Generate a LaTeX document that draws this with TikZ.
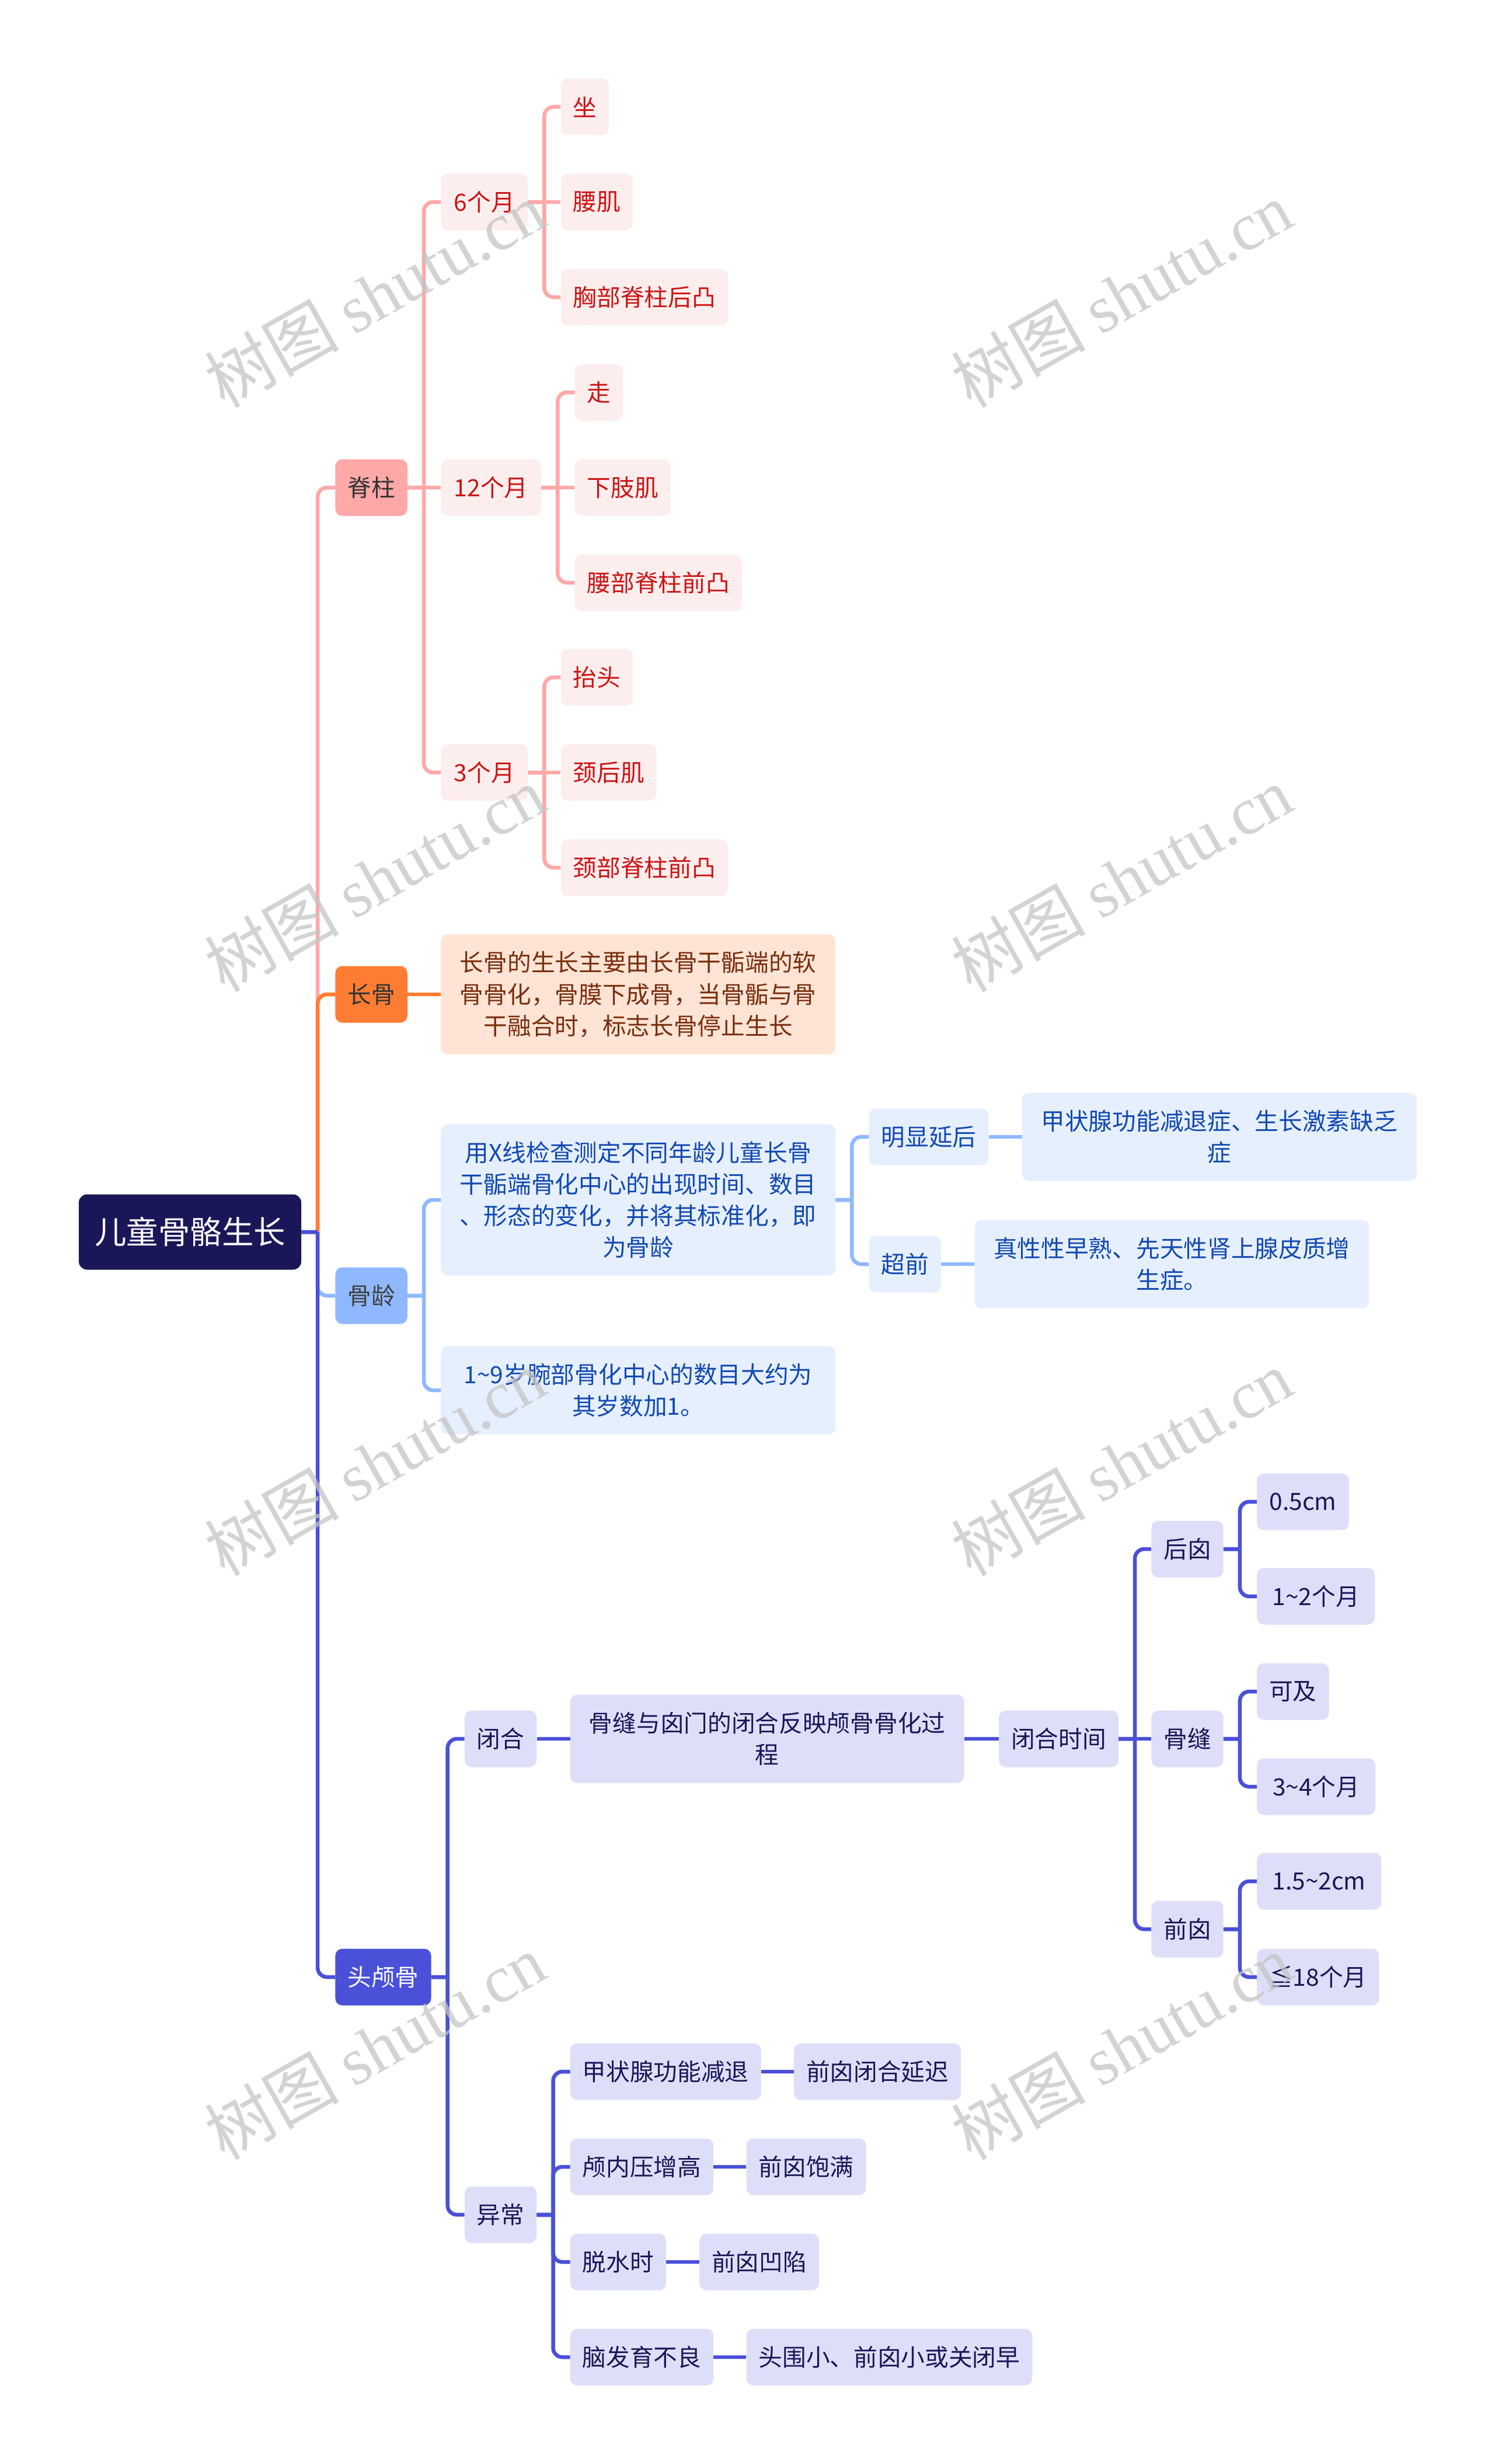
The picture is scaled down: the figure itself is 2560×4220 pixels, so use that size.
\documentclass[tikz,border=0pt]{standalone}
\usepackage{fontspec}
\setmainfont{Noto Sans CJK SC}
\newfontfamily\markfont{Liberation Serif}
\usetikzlibrary{positioning}
\definecolor{rootfill}{HTML}{1A1759}
\definecolor{pinkmain}{HTML}{FFA8A8}
\definecolor{pinkleaf}{HTML}{FDEEEE}
\definecolor{pinktext}{HTML}{CC1414}
\definecolor{orangemain}{HTML}{FF7D33}
\definecolor{orangeleaf}{HTML}{FFE4D5}
\definecolor{orangetext}{HTML}{7A2E0E}
\definecolor{bluemain}{HTML}{8FB8FF}
\definecolor{blueleaf}{HTML}{E6EFFD}
\definecolor{bluetext}{HTML}{1149B3}
\definecolor{indigomain}{HTML}{4A50D8}
\definecolor{indigoleaf}{HTML}{DDDFF8}
\definecolor{indigotext}{HTML}{1A1759}
\definecolor{marktext}{HTML}{C4C4C4}
\tikzset{
	box/.style={rounded corners=12pt,inner xsep=21pt,inner ysep=0pt,minimum height=97pt,align=center,font=\fontsize{40.7}{54.2}\selectfont},
	rootbox/.style={box,fill=rootfill,text=white,rounded corners=14pt,inner xsep=27pt,minimum height=129pt,font=\fontsize{54.5}{60}\selectfont},
	pinkbox/.style={box,fill=pinkmain,text=black!80},
	pinkitem/.style={box,fill=pinkleaf,text=pinktext},
	orangebox/.style={box,fill=orangemain,text=black!80},
	orangeitem/.style={box,fill=orangeleaf,text=orangetext,minimum width=676pt,minimum height=206pt},
	bluebox/.style={box,fill=bluemain,text=black!75},
	blueitem/.style={box,fill=blueleaf,text=bluetext},
	bluewide/.style={blueitem,minimum width=676pt,minimum height=151pt},
	indigobox/.style={box,fill=indigomain,text=white},
	indigoitem/.style={box,fill=indigoleaf,text=indigotext},
	link/.style={line width=6.5pt,rounded corners=16pt},
	elbow/.style={to path={-- ++(28,0) ++(0,0) |- (\tikztotarget)}},
	watermark/.style={rotate=29.5,text=marktext,opacity=.75,font=\fontsize{115}{125}\selectfont}
}
\begin{document}
\begin{tikzpicture}[x=1pt,y=1pt]
	\useasboundingbox (0,0) rectangle (2560,-4220);
	\node[rootbox]    (root) at (325.5,-2110)   {儿童骨骼生长};

	\node[pinkbox]    (spine)[right=58pt of root,yshift=1275pt]  {脊柱};
	\node[pinkitem,minimum width=149pt]    (m6)[right=57pt of spine,yshift=489pt]   {6个月};
	\node[pinkitem,minimum width=172pt]    (m12)[right=57pt of spine]               {12个月};
	\node[pinkitem,minimum width=149pt]    (m3)[right=57pt of spine,yshift=-488pt]  {3个月};
	\node[pinkitem]   (sit)[right=56pt of m6,yshift=163pt]    {坐};
	\node[pinkitem]   (waist)[right=56pt of m6]               {腰肌};
	\node[pinkitem]   (chest)[right=56pt of m6,yshift=-163pt] {胸部脊柱后凸};
	\node[pinkitem]   (walk)[right=57pt of m12,yshift=163pt]  {走};
	\node[pinkitem]   (leg)[right=57pt of m12]                {下肢肌};
	\node[pinkitem]   (lumbar)[right=57pt of m12,yshift=-163pt] {腰部脊柱前凸};
	\node[pinkitem]   (lift)[right=56pt of m3,yshift=163pt]   {抬头};
	\node[pinkitem]   (neck)[right=56pt of m3]                {颈后肌};
	\node[pinkitem]   (cervical)[right=56pt of m3,yshift=-163pt] {颈部脊柱前凸};

	\node[orangebox]  (longbone)[right=58pt of root,yshift=407pt] {长骨};
	\node[orangeitem] (longtext)[right=57pt of longbone] {长骨的生长主要由长骨干骺端的软\\骨骨化，骨膜下成骨，当骨骺与骨\\干融合时，标志长骨停止生长};

	\node[bluebox]    (boneage)[right=58pt of root,yshift=-109pt] {骨龄};
	\node[blueitem,minimum width=676pt,minimum height=259pt] (xray)[right=57pt of boneage,yshift=164pt] {用X线检查测定不同年龄儿童长骨\\干骺端骨化中心的出现时间、数目\\、形态的变化，并将其标准化，即\\为骨龄};
	\node[bluewide]   (wrist)[right=57pt of boneage,yshift=-162pt] {1\textasciitilde 9岁腕部骨化中心的数目大约为\\其岁数加1。};
	\node[blueitem]   (late)[right=57pt of xray,yshift=108pt]   {明显延后};
	\node[blueitem]   (early)[right=57pt of xray,yshift=-110pt] {超前};
	\node[bluewide]   (lateText)[right=57pt of late]  {甲状腺功能减退症、生长激素缺乏\\症};
	\node[bluewide]   (earlyText)[right=57pt of early] {真性性早熟、先天性肾上腺皮质增\\生症。};

	\node[indigobox,minimum width=164pt] (skull)[right=58pt of root,yshift=-1276pt] {头颅骨};
	\node[indigoitem] (closure)[right=57pt of skull,yshift=408pt]   {闭合};
	\node[indigoitem] (abnormal)[right=57pt of skull,yshift=-407pt] {异常};
	\node[indigoitem,minimum width=675pt,minimum height=151pt] (suture)[right=57pt of closure] {骨缝与囟门的闭合反映颅骨骨化过\\程};
	\node[indigoitem] (time)[right=59pt of suture]  {闭合时间};
	\node[indigoitem] (seam)[right=56pt of time]    {骨缝};
	\node[indigoitem] (rear)[right=56pt of time,yshift=325pt]   {后囟};
	\node[indigoitem] (front)[right=56pt of time,yshift=-326pt] {前囟};
	\node[indigoitem,minimum width=158pt] (rearA)[right=57pt of rear,yshift=81pt]   {0.5cm};
	\node[indigoitem,minimum width=202pt] (rearB)[right=57pt of rear,yshift=-81pt]  {1\textasciitilde 2个月};
	\node[indigoitem] (seamA)[right=57pt of seam,yshift=81pt]   {可及};
	\node[indigoitem,minimum width=203pt] (seamB)[right=57pt of seam,yshift=-82pt]  {3\textasciitilde 4个月};
	\node[indigoitem,minimum width=213pt] (frontA)[right=57pt of front,yshift=82pt]  {1.5\textasciitilde 2cm};
	\node[indigoitem,minimum width=194pt] (frontB)[right=57pt of front,yshift=-82pt] {≦18个月};
	\node[indigoitem] (thyroid)[right=57pt of abnormal,yshift=245pt]   {甲状腺功能减退};
	\node[indigoitem] (pressure)[right=57pt of abnormal,yshift=82pt]   {颅内压增高};
	\node[indigoitem] (dehydrate)[right=57pt of abnormal,yshift=-81pt] {脱水时};
	\node[indigoitem] (brain)[right=57pt of abnormal,yshift=-244pt]    {脑发育不良};
	\node[indigoitem] (thyroidR)[right=56pt of thyroid]     {前囟闭合延迟};
	\node[indigoitem] (pressureR)[right=56pt of pressure]   {前囟饱满};
	\node[indigoitem] (dehydrateR)[right=57pt of dehydrate] {前囟凹陷};
	\node[indigoitem] (brainR)[right=56pt of brain]         {头围小、前囟小或关闭早};

	\path[link,draw=pinkmain]
	(root.east) edge[elbow] (spine.west)
	(spine.east) edge (m12.west)
	edge[elbow] (m6.west)
	edge[elbow] (m3.west)
	(m6.east) edge (waist.west)
	edge[elbow] (sit.west)
	edge[elbow] (chest.west)
	(m12.east) edge (leg.west)
	edge[elbow] (walk.west)
	edge[elbow] (lumbar.west)
	(m3.east) edge (neck.west)
	edge[elbow] (lift.west)
	edge[elbow] (cervical.west);
	\path[link,draw=orangemain]
	(root.east) edge[elbow] (longbone.west)
	(longbone.east) edge (longtext.west);
	\path[link,draw=bluemain]
	(root.east) edge[elbow] (boneage.west)
	(boneage.east) edge[elbow] (xray.west)
	edge[elbow] (wrist.west)
	(xray.east) edge[elbow] (late.west)
	edge[elbow] (early.west)
	(late.east) edge (lateText.west)
	(early.east) edge (earlyText.west);
	\path[link,draw=indigomain]
	(root.east) edge[elbow] (skull.west)
	(skull.east) edge[elbow] (closure.west)
	edge[elbow] (abnormal.west)
	(closure.east) edge (suture.west)
	(suture.east) edge (time.west)
	(time.east) edge (seam.west)
	edge[elbow] (rear.west)
	edge[elbow] (front.west)
	(rear.east) edge[elbow] (rearA.west)
	edge[elbow] (rearB.west)
	(seam.east) edge[elbow] (seamA.west)
	edge[elbow] (seamB.west)
	(front.east) edge[elbow] (frontA.west)
	edge[elbow] (frontB.west)
	(abnormal.east) edge[elbow] (thyroid.west)
	edge[elbow] (pressure.west)
	edge[elbow] (dehydrate.west)
	edge[elbow] (brain.west)
	(thyroid.east) edge (thyroidR.west)
	(pressure.east) edge (pressureR.west)
	(dehydrate.east) edge (dehydrateR.west)
	(brain.east) edge (brainR.west);

	\foreach \col/\wx in {a/642,b/1921}
		\foreach \row/\wy in {a/-504,b/-1505,c/-2505,d/-3505}
			\node[watermark] (mark\col\row) at (\wx,\wy) {树图 {\markfont shutu.cn}};
\end{tikzpicture}
\end{document}
